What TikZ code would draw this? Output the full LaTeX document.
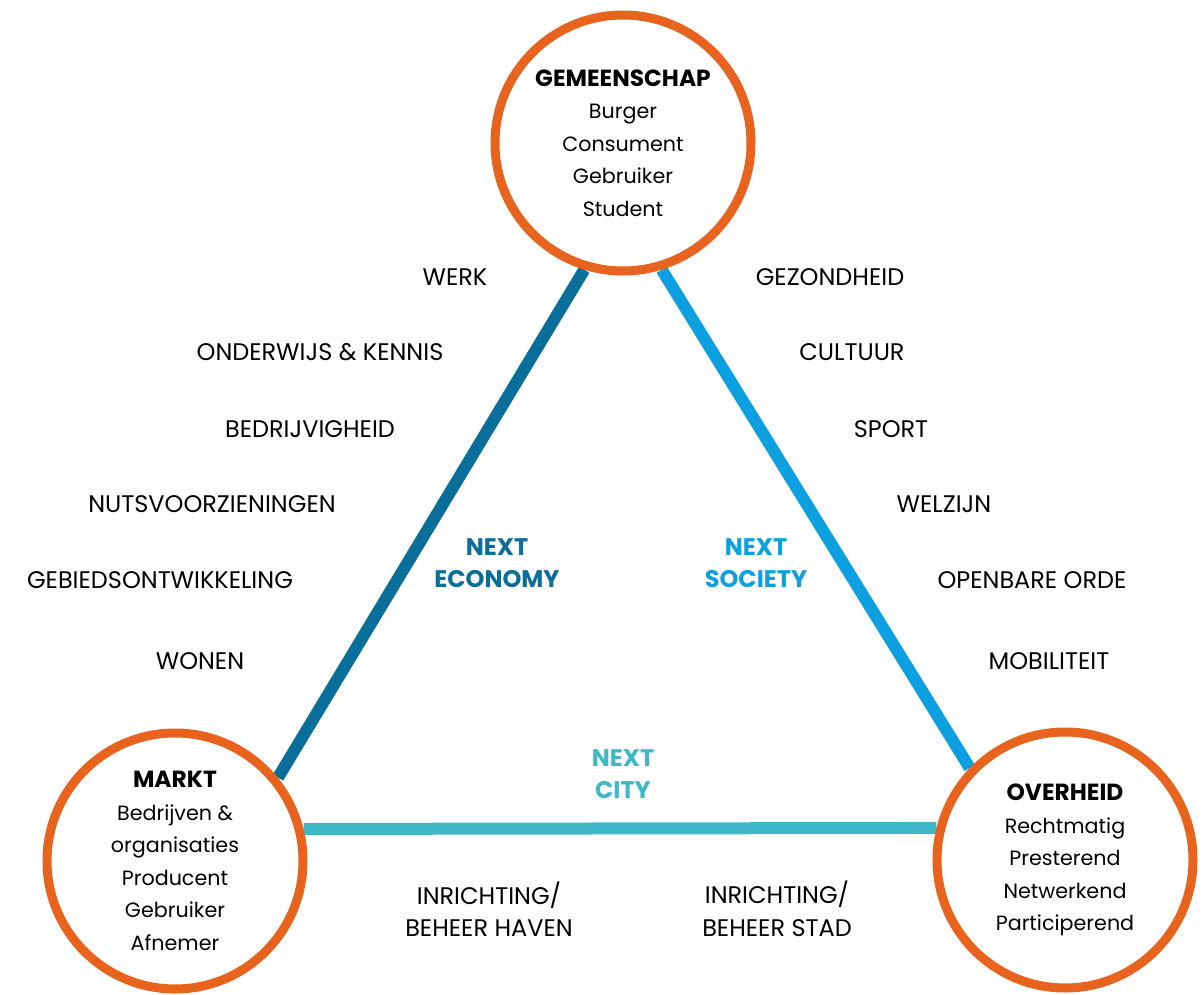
\documentclass[tikz,border=0pt]{standalone}
\usepackage{fontspec}
\setmainfont{Poppins}
\usepackage{tikz}
\usetikzlibrary{positioning,backgrounds}
\definecolor{ringclr}{RGB}{232,100,30}
\definecolor{econclr}{RGB}{10,110,154}
\definecolor{socclr}{RGB}{12,160,224}
\definecolor{cityclr}{RGB}{62,184,198}
\newcommand{\actorhead}[1]{{\bfseries\fontsize{17.5}{24.4}\selectfont #1}}
\tikzset{
  actor/.style={circle,draw=ringclr,line width=6.75pt,fill=white,
                minimum size=192pt,inner sep=0pt,align=center,
                font=\fontsize{15.5}{24.4}\selectfont},
  theme/.style={font=\fontsize{18}{24.4}\selectfont,align=center,inner sep=0pt},
  next/.style={font=\bfseries\fontsize{18}{24.4}\selectfont,align=center,inner sep=0pt},
  link/.style={line width=9pt},
}

\begin{document}
\begin{tikzpicture}[x=0.75pt,y=-0.75pt]
\useasboundingbox (0,0) rectangle (1204,995);
% three actors
\node[actor] (gem) at (623,143)
  {\actorhead{GEMEENSCHAP}\\Burger\\Consument\\Gebruiker\\Student};
\node[actor] (markt) at (175,861)
  {\actorhead{MARKT}\\Bedrijven \&\\organisaties\\Producent\\Gebruiker\\Afnemer};
\node[actor] (over) at (1065,860)
  {\actorhead{OVERHEID}\\Rechtmatig\\Presterend\\Netwerkend\\Participerend};
% sides of the triangle
\begin{scope}[on background layer]
\draw[link,econclr] (gem.253) -- (markt.39);
\draw[link,socclr] (gem.287) -- (over.136);
\draw[link,cityclr] (markt.14) -- (over.166);
\end{scope}
% side labels
\node[next,text=econclr] (econ) at (497,563) {NEXT\\ECONOMY};
\node[next,text=socclr] (soc) at (756,563) {NEXT\\SOCIETY};
\node[next,text=cityclr] (city) at (623,774) {NEXT\\CITY};
% themes, economy side
\node[theme] (werk) at (455,277) {WERK};
\node[theme] (onderwijs) at (320,352) {ONDERWIJS \& KENNIS};
\node[theme] (bedrijf) at (310,429) {BEDRIJVIGHEID};
\node[theme] (nuts) at (212,504) {NUTSVOORZIENINGEN};
\node[theme] (gebied) at (160,580) {GEBIEDSONTWIKKELING};
\node[theme] (wonen) at (200,661) {WONEN};
% themes, society side
\node[theme] (gezond) at (830,277) {GEZONDHEID};
\node[theme] (cultuur) at (852,352) {CULTUUR};
\node[theme] (sport) at (891,429) {SPORT};
\node[theme] (welzijn) at (944,504) {WELZIJN};
\node[theme] (orde) at (1032,580) {OPENBARE ORDE};
\node[theme] (mobiel) at (1049,661) {MOBILITEIT};
% themes, city side
\node[theme] (haven) at (489,909) {INRICHTING/\\BEHEER HAVEN};
\node[theme] (stad) at (777,909) {INRICHTING/\\BEHEER STAD};
\end{tikzpicture}
\end{document}
